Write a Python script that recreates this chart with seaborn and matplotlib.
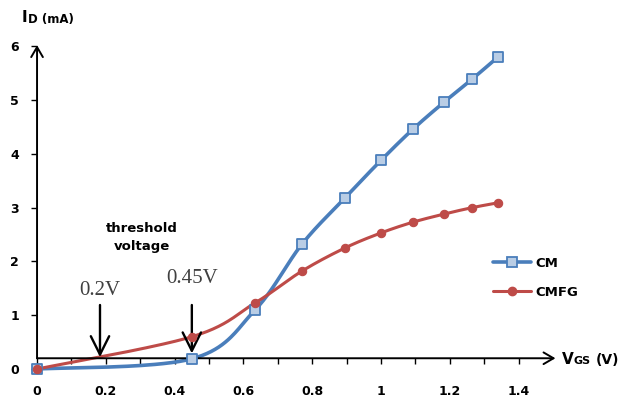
import numpy as np
import pandas as pd
import matplotlib
matplotlib.use("Agg")
import matplotlib.pyplot as plt
from matplotlib.lines import Line2D
import seaborn as sns

# ---- data ----
vgs = [0.0, 0.45, 0.634, 0.77, 0.895, 1.0, 1.093, 1.183, 1.265, 1.34]
cm = [0.0, 0.19, 1.10, 2.32, 3.18, 3.88, 4.46, 4.96, 5.39, 5.80]
cmfg = [0.0, 0.60, 1.23, 1.82, 2.25, 2.53, 2.73, 2.88, 3.00, 3.09]
series_names = ["CM", "CMFG"]
x_ticks = [0, 0.2, 0.4, 0.6, 0.8, 1, 1.2, 1.4]
x_tick_labels = ["0", "0.2", "0.4", "0.6", "0.8", "1", "1.2", "1.4"]
y_ticks = [0, 1, 2, 3, 4, 5, 6]
thresholds = [0.183, 0.45]
threshold_labels = ["0.2V", "0.45V"]

BLUE = "#4a7ebb"
BLUE_FACE = "#b9cde5"
RED = "#be4b48"


def excel_smooth(xs, ys, n=40):
    """Excel-style smoothed line rendering (Bezier through the points)."""
    p = np.column_stack([xs, ys]).astype(float)
    out = []
    m = len(p)
    t = np.linspace(0, 1, n)[:, None]
    for i in range(m - 1):
        p0 = p[i - 1] if i > 0 else p[i]
        p1, p2 = p[i], p[i + 1]
        p3 = p[i + 2] if i + 2 < m else p[i + 1]
        c1 = p1 + (p2 - p0) / 6.0
        c2 = p2 - (p3 - p1) / 6.0
        seg = ((1 - t) ** 3) * p1 + 3 * ((1 - t) ** 2) * t * c1 + 3 * (1 - t) * t ** 2 * c2 + t ** 3 * p2
        out.append(seg if i == 0 else seg[1:])
    s = np.vstack(out)
    return s[:, 0], s[:, 1]


sns.set_theme(style="white")
plt.rcParams["font.family"] = ["DejaVu Sans"]
plt.rcParams["text.color"] = "black"
plt.rcParams["xtick.color"] = "black"
plt.rcParams["ytick.color"] = "black"
plt.rcParams["xtick.labelcolor"] = "black"
plt.rcParams["ytick.labelcolor"] = "black"

fig = plt.figure(figsize=(6.2, 4.03), dpi=100)
ax = fig.add_axes([0.0431, 0.0643, 0.86, 0.841])
ax.set_xlim(-0.03, 1.52)
ax.set_ylim(-0.15, 6.15)

# smoothed lines
for ys, col, lw in [(cm, BLUE, 2.6), (cmfg, RED, 2.2)]:
    sx, sy = excel_smooth(vgs, ys)
    df = pd.DataFrame({"x": sx, "y": sy})
    sns.lineplot(data=df, x="x", y="y", ax=ax, color=col, lw=lw, sort=False,
                 estimator=None, clip_on=False, zorder=3)

# markers
df_pts = pd.DataFrame({"vgs": vgs, "CM": cm, "CMFG": cmfg})
sns.scatterplot(data=df_pts, x="vgs", y="CM", ax=ax, marker="s", s=48,
                color=BLUE_FACE, edgecolor=BLUE, linewidth=1.3, zorder=4, clip_on=False)
sns.scatterplot(data=df_pts, x="vgs", y="CMFG", ax=ax, marker="o", s=36,
                color=RED, edgecolor=RED, linewidth=0.8, zorder=5, clip_on=False)

# axes styling: x-axis drawn at I=0.2, y-axis at V=0
for s in ["top", "right", "bottom", "left"]:
    ax.spines[s].set_visible(False)
ax.spines["bottom"].set_position(("data", 0.2))
ax.spines["left"].set_position(("data", 0.0))
ax.set_xticks(x_ticks)
ax.set_xticklabels(x_tick_labels)
ax.set_xticks(np.arange(0.1, 1.45, 0.2), minor=True)
ax.set_yticks(y_ticks)
ax.tick_params(axis="x", which="both", direction="out", length=4, width=1, color="black",
               bottom=True, pad=15, labelsize=9, labelcolor="black")
ax.tick_params(axis="y", direction="out", length=4, width=1, color="black",
               left=True, pad=9, labelsize=9, labelcolor="black")
for lab in ax.get_xticklabels() + ax.get_yticklabels():
    lab.set_fontweight("bold")
ax.set_xlabel("")
ax.set_ylabel("")

arrow_kw = dict(arrowstyle="->,head_length=0.6,head_width=0.35", lw=1.4, color="black",
                shrinkA=0, shrinkB=0)
ax.annotate("", xy=(1.507, 0.2), xytext=(0, 0.2), arrowprops=arrow_kw, annotation_clip=False)
ax.annotate("", xy=(0, 6.02), xytext=(0, 0.2), arrowprops=arrow_kw, annotation_clip=False)

# axis titles
fig.text(22 / 620, 1 - 18 / 403, "I", fontsize=11, fontweight="bold", va="center", ha="left")
fig.text(28 / 620, 1 - 19 / 403, "D (mA)", fontsize=8.5, fontweight="bold", va="center", ha="left")
fig.text(562 / 620, 1 - 360 / 403, "V", fontsize=11, fontweight="bold", va="center", ha="left")
fig.text(574 / 620, 1 - 361 / 403, "GS", fontsize=8, fontweight="bold", va="center", ha="left")
fig.text(596 / 620, 1 - 360 / 403, "(V)", fontsize=10, fontweight="bold", va="center", ha="left")

# threshold annotations
ax.text(0.306, 2.45, "threshold\nvoltage", ha="center", va="center", fontsize=9.5,
        fontweight="bold", linespacing=1.5)
head_kw = dict(arrowstyle="->,head_length=1.1,head_width=0.55", lw=1.7, color="black",
               shrinkA=0, shrinkB=0)
label_y = [1.28, 1.50]
tip_y = [0.22, 0.29]
for xv, lab, ly, ty in zip(thresholds, threshold_labels, label_y, tip_y):
    ax.annotate("", xy=(xv, ty), xytext=(xv, 1.19), arrowprops=head_kw)
    ax.text(xv, ly, lab, ha="center", va="bottom", fontsize=15,
            family=["Liberation Serif", "DejaVu Serif"], color="#404040")

# legend
handles = [
    Line2D([], [], color=BLUE, lw=2.6, marker="s", markersize=7, markerfacecolor=BLUE_FACE,
           markeredgecolor=BLUE, markeredgewidth=1.3),
    Line2D([], [], color=RED, lw=2.2, marker="o", markersize=6, markerfacecolor=RED,
           markeredgecolor=RED),
]
leg = ax.legend(handles, series_names, loc="upper left", bbox_to_anchor=(0.865, 0.37),
                frameon=False, handlelength=2.9, labelspacing=1.2, handletextpad=0.3,
                borderaxespad=0, prop={"weight": "bold", "size": 9.5})
for t in leg.get_texts():
    t.set_color("black")

fig.savefig("out.png", dpi=100, facecolor="white")
